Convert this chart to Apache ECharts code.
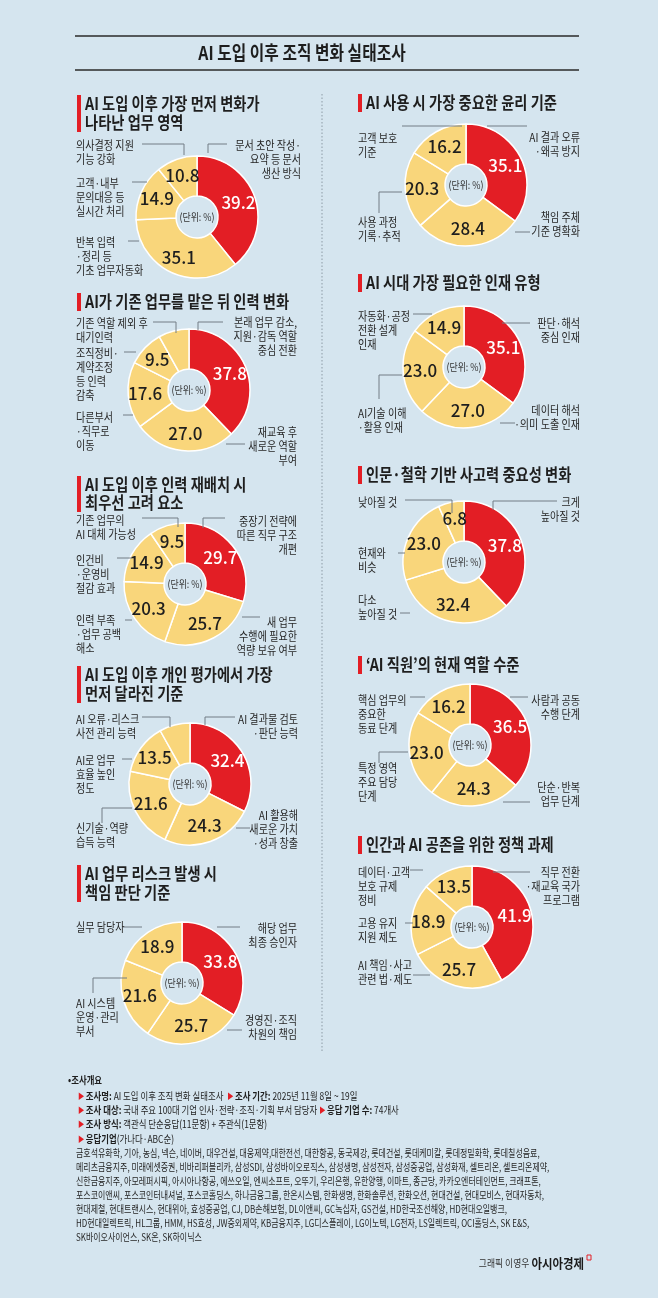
<!DOCTYPE html>
<html><head><meta charset="utf-8">
<script src="https://cdn.jsdelivr.net/npm/echarts@6/dist/echarts.min.js"></script>
<style>html,body{margin:0;padding:0;background:#d5e5ef;}#c{width:658px;height:1298px;}</style>
</head><body><div id="c"></div>
<script>
// ---------------- DATA ----------------
const mainTitle = 'AI 도입 이후 조직 변화 실태조사';
const unitText = '(단위: %)';

const titleL1 = ['AI 도입 이후 가장 먼저 변화가', '나타난 업무 영역'];
const catsL1 = ['문서 초안 작성·\n요약 등 문서\n생산 방식', '반복 입력\n·정리 등\n기초 업무자동화', '고객·내부\n문의대응 등\n실시간 처리', '의사결정 지원\n기능 강화'];
const valsL1 = [39.2, 35.1, 14.9, 10.8];

const titleL2 = ['AI가 기존 업무를 맡은 뒤 인력 변화'];
const catsL2 = ['본래 업무 감소,\n지원·감독 역할\n중심 전환', '재교육 후\n새로운 역할\n부여', '다른부서\n·직무로\n이동', '조직정비·\n계약조정\n등 인력\n감축', '기존 역할 제외 후\n대기인력'];
const valsL2 = [37.8, 27.0, 17.6, 9.5, 8.1];

const titleL3 = ['AI 도입 이후 인력 재배치 시', '최우선 고려 요소'];
const catsL3 = ['중장기 전략에\n따른 직무 구조\n개편', '새 업무\n수행에 필요한\n역량 보유 여부', '인력 부족\n·업무 공백\n해소', '인건비\n·운영비\n절감 효과', '기존 업무의\nAI 대체 가능성'];
const valsL3 = [29.7, 25.7, 20.3, 14.9, 9.5];

const titleL4 = ['AI 도입 이후 개인 평가에서 가장', '먼저 달라진 기준'];
const catsL4 = ['AI 결과물 검토\n·판단 능력', 'AI 활용해\n새로운 가치\n·성과 창출', '신기술·역량\n습득 능력', 'AI로 업무\n효율 높인\n정도', 'AI 오류·리스크\n사전 관리 능력'];
const valsL4 = [32.4, 24.3, 21.6, 13.5, 8.1];

const titleL5 = ['AI 업무 리스크 발생 시', '책임 판단 기준'];
const catsL5 = ['해당 업무\n최종 승인자', '경영진·조직\n차원의 책임', 'AI 시스템\n운영·관리\n부서', '실무 담당자'];
const valsL5 = [33.8, 25.7, 21.6, 18.9];

const titleR1 = ['AI 사용 시 가장 중요한 윤리 기준'];
const catsR1 = ['AI 결과 오류\n·왜곡 방지', '책임 주체\n기준 명확화', '사용 과정\n기록·추적', '고객 보호\n기준'];
const valsR1 = [35.1, 28.4, 20.3, 16.2];

const titleR2 = ['AI 시대 가장 필요한 인재 유형'];
const catsR2 = ['판단·해석\n중심 인재', '데이터 해석\n·의미 도출 인재', 'AI기술 이해\n·활용 인재', '자동화·공정\n전환 설계\n인재'];
const valsR2 = [35.1, 27.0, 23.0, 14.9];

const titleR3 = ['인문·철학 기반 사고력 중요성 변화'];
const catsR3 = ['크게\n높아질 것', '다소\n높아질 것', '현재와\n비슷', '낮아질 것'];
const valsR3 = [37.8, 32.4, 23.0, 6.8];

const titleR4 = ['‘AI 직원’의 현재 역할 수준'];
const catsR4 = ['사람과 공동\n수행 단계', '단순·반복\n업무 단계', '특정 영역\n주요 담당\n단계', '핵심 업무의\n중요한\n동료 단계'];
const valsR4 = [36.5, 24.3, 23.0, 16.2];

const titleR5 = ['인간과 AI 공존을 위한 정책 과제'];
const catsR5 = ['직무 전환\n·재교육 국가\n프로그램', 'AI 책임·사고\n관련 법·제도', '고용 유지\n지원 제도', '데이터·고객\n보호 규제\n정비'];
const valsR5 = [41.9, 25.7, 18.9, 13.5];

const surveyHead = '•조사개요';
const surveyName = 'AI 도입 이후 조직 변화 실태조사';
const surveyPeriod = '2025년 11월 8일 ~ 19일';
const surveyTarget = '국내 주요 100대 기업 인사·전략·조직·기획 부서 담당자';
const surveyCount = '74개사';
const surveyMethod = '객관식 단순응답(11문항) + 주관식(1문항)';
const companyLines = [
  '금호석유화학, 기아, 농심, 넥슨, 네이버, 대우건설, 대웅제약,대한전선, 대한항공, 동국제강, 롯데건설, 롯데케미칼, 롯데정밀화학, 롯데칠성음료,',
  '메리츠금융지주, 미래에셋증권, 비바리퍼블리카, 삼성SDI, 삼성바이오로직스, 삼성생명, 삼성전자, 삼성중공업, 삼성화재, 셀트리온, 셀트리온제약,',
  '신한금융지주, 아모레퍼시픽, 아시아나항공, 에쓰오일, 엔씨소프트, 오뚜기, 우리은행, 유한양행, 이마트, 종근당, 카카오엔터테인먼트, 크래프톤,',
  '포스코이앤씨, 포스코인터내셔널, 포스코홀딩스, 하나금융그룹, 한온시스템, 한화생명, 한화솔루션, 한화오션, 현대건설, 현대모비스, 현대자동차,',
  '현대제철, 현대트랜시스, 현대위아, 효성중공업, CJ, DB손해보험, DL이앤씨, GC녹십자, GS건설, HD한국조선해양, HD현대오일뱅크,',
  'HD현대일렉트릭, HL그룹, HMM, HS효성, JW중외제약, KB금융지주, LG디스플레이, LG이노텍, LG전자, LS일렉트릭, OCI홀딩스, SK E&S,',
  'SK바이오사이언스, SK온, SK하이닉스'
];
const creditName = '그래픽 이영우 ';
const creditBrand = '아시아경제';

// ---------------- LAYOUT ----------------
const RED = '#e31e25', YEL = '#f9d67b', INK = '#1e1e1e', LINE = '#737d85';
const CF = '"Noto Sans CJK KR", "Noto Sans", sans-serif';

const charts = [
  {title: titleL1, cats: catsL1, vals: valsL1, bx: 77, ty: [104, 123], c: [197, 217],
   lab: [[301,145,'right'],[76,242,'left'],[76,183,'left'],[76,145,'left']],
   lead: [[[208,153],[208,144],[227,144]], [[128,241],[139,241]], [[132,182],[147,182]], [[142,144],[184,144],[184,155]]]},
  {title: titleL2, cats: catsL2, vals: valsL2, bx: 77, ty: [302], c: [189, 390],
   lab: [[297,322,'right'],[297,432,'right'],[76,417,'left'],[76,353,'left'],[76,323,'left']],
   lead: [[[198,330],[198,322],[223,322]], [[226,444],[245,444]], [[123,415],[133,415]], [[124,352],[136,352]], [[153,322],[176,322],[176,333]]]},
  {title: titleL3, cats: catsL3, vals: valsL3, bx: 77, ty: [485, 503], c: [185, 584],
   lab: [[297,521,'right'],[297,622,'right'],[76,620,'left'],[76,560,'left'],[76,520,'left']],
   lead: [[[203,528],[203,518],[225,518]], [[242,617],[260,617]], [[125,620],[132,620]], [[117,558],[132,558]], [[142,518],[178,518],[178,527]]]},
  {title: titleL4, cats: catsL4, vals: valsL4, bx: 77, ty: [675, 694], c: [190, 784],
   lab: [[298,719,'right'],[298,815,'right'],[76,828,'left'],[76,760,'left'],[76,719,'left']],
   lead: [[[205,725],[205,717],[235,717]], [[236,828],[250,828]], [[102,823],[102,808],[132,808]], [[122,759],[132,759]], [[142,717],[170,717],[170,727]]]},
  {title: titleL5, cats: catsL5, vals: valsL5, bx: 77, ty: [874, 893], c: [182, 983],
   lab: [[297,928,'right'],[297,1020,'right'],[76,1003,'left'],[76,927,'left']],
   lead: [[[217,927],[240,927]], [[227,1030],[242,1030]], [[93,993],[93,978],[127,978]], [[123,927],[142,927]]]},
  {title: titleR1, cats: catsR1, vals: valsR1, bx: 358, ty: [103], c: [466, 185],
   lab: [[580,137,'right'],[580,217,'right'],[358,222,'left'],[358,138,'left']],
   lead: [[[487,126],[527,126]], [[515,232],[530,232]], [[379,213],[379,192],[402,192]], [[402,126],[462,126]]]},
  {title: titleR2, cats: catsR2, vals: valsR2, bx: 358, ty: [283], c: [464, 367],
   lab: [[580,323,'right'],[580,410,'right'],[358,413,'left'],[358,316,'left']],
   lead: [[[502,323],[530,323]], [[500,423],[515,423]], [[379,399],[379,375],[402,375]], [[413,314],[432,314]]]},
  {title: titleR3, cats: catsR3, vals: valsR3, bx: 358, ty: [475], c: [464, 562],
   lab: [[580,502,'right'],[358,600,'left'],[358,553,'left'],[358,502,'left']],
   lead: [[[493,510],[493,501],[557,501]], [[400,613],[410,613]], [[398,553],[405,553]], [[405,500],[452,500],[452,513]]]},
  {title: titleR4, cats: catsR4, vals: valsR4, bx: 358, ty: [665], c: [470, 745],
   lab: [[580,700,'right'],[580,787,'right'],[358,768,'left'],[358,700,'left']],
   lead: [[[510,697],[528,697]], [[503,802],[530,802]], [[379,763],[379,752],[408,752]], [[410,697],[425,697]]]},
  {title: titleR5, cats: catsR5, vals: valsR5, bx: 358, ty: [845], c: [472, 927],
   lab: [[580,872,'right'],[358,965,'left'],[358,923,'left'],[358,872,'left']],
   lead: [[[493,872],[530,872]], [[413,975],[430,975]], [[405,923],[413,923]], [[410,870],[423,870]]]}
];

function T(x, y, text, size, o) {
  o = o || {};
  return {type: 'text', x: x, y: y, scaleX: o.sx == null ? 0.84 : o.sx, silent: true, z: 20,
    style: {text: text, fontSize: size, fontWeight: o.w || 'normal', fontFamily: CF,
      fill: o.fill || INK, textAlign: o.align || 'left', textVerticalAlign: 'middle', rich: o.rich}};
}
function L(points, o) {
  o = o || {};
  return {type: 'polyline', silent: true, z: 15, shape: {points: points},
    style: {stroke: o.stroke || LINE, lineWidth: o.lw || 1, fill: 'none', lineDash: o.dash || null}};
}

const g = [];
g.push(L([[75,36],[579,36]], {stroke:'#2a2a2a', lw:1.3}));
g.push(L([[75,70],[579,70]], {stroke:'#2a2a2a', lw:1.3}));
g.push(T(302, 53, mainTitle, 19, {w:'bold', align:'center', sx:0.83}));
g.push(L([[322,94],[322,1053]], {stroke:'#8d9ba5', lw:1, dash:[1.5,2]}));

charts.forEach(function (ch) {
  const y0 = ch.ty[0], y1 = ch.ty[ch.ty.length - 1];
  g.push({type:'rect', silent:true, z:15, shape:{x: ch.bx, y: y0 - 9, width: 4, height: y1 - y0 + 18}, style:{fill: RED}});
  ch.title.forEach(function (t, i) { g.push(T(ch.bx + 8, ch.ty[i], t, 17, {w:'bold', sx:0.84})); });
  ch.cats.forEach(function (cat, i) {
    const p = ch.lab[i];
    cat.split('\n').forEach(function (line, k) {
      g.push(T(p[0], p[1] + k * 14, line, 12, {align: p[2], sx: 0.84, fill:'#262626'}));
    });
    g.push(L(ch.lead[i]));
  });
  g.push(T(ch.c[0], ch.c[1], unitText, 10.5, {align:'center', sx:0.85, fill:'#333'}));
});

const rich = {
  b: {fontWeight:'bold', fontSize:10.5, fontFamily:CF, fill:'#1e1e1e'},
  n: {fontSize:10.5, fontFamily:CF, fill:'#1e1e1e'},
  t: {fontSize:8, fontFamily:CF, fill:RED}
};
g.push(T(68, 1080, surveyHead, 10.5, {w:'bold', sx:0.8}));
g.push(T(78, 1096, '{t|▶ }{b|조사명: }{n|' + surveyName + '  }{t|▶ }{b|조사 기간: }{n|' + surveyPeriod + '}', 10.5, {sx:0.8, rich: rich}));
g.push(T(78, 1110, '{t|▶ }{b|조사 대상: }{n|' + surveyTarget + ' }{t|▶ }{b|응답 기업 수: }{n|' + surveyCount + '}', 10.5, {sx:0.8, rich: rich}));
g.push(T(78, 1124, '{t|▶ }{b|조사 방식: }{n|' + surveyMethod + '}', 10.5, {sx:0.8, rich: rich}));
g.push(T(78, 1139, '{t|▶ }{b|응답기업}{n|(가나다·ABC순)}', 10.5, {sx:0.8, rich: rich}));
companyLines.forEach(function (line, i) {
  g.push(T(76, 1153 + i * 14, line, 10.5, {sx:0.76, fill:'#262626'}));
});
g.push(T(584, 1263, '{n|' + creditName + '}{c|' + creditBrand + '}', 10, {align:'right', sx:0.88,
  rich: {n:{fontSize:10, fontFamily:CF, fill:'#333'}, c:{fontSize:13, fontWeight:'bold', fontFamily:CF, fill:'#1a1a1a'}}}));
g.push({type:'rect', silent:true, z:15, shape:{x:587, y:1255, width:4, height:5}, style:{fill:'none', stroke:RED, lineWidth:1}});

const series = charts.map(function (ch) {
  return {
    type: 'pie', center: ch.c, radius: [21, 61], startAngle: 90, clockwise: true,
    silent: true, animation: false, avoidLabelOverlap: false,
    label: {show: true, position: 'inside', fontSize: 17, fontWeight: 500, fontFamily: CF, color: INK,
      formatter: function (p) { return Number(p.value).toFixed(1); }},
    labelLine: {show: false},
    emphasis: {disabled: true},
    itemStyle: {borderColor: '#ffffff', borderWidth: 1.5},
    data: ch.vals.map(function (v, i) {
      return {name: ch.cats[i].replace(/\n/g, ' '), value: v,
        itemStyle: {color: i === 0 ? RED : YEL},
        label: {color: i === 0 ? '#ffffff' : INK}};
    })
  };
});

const chart = echarts.init(document.getElementById('c'), null, {renderer: 'canvas', width: 658, height: 1298});
chart.setOption({
  backgroundColor: '#d5e5ef',
  animation: false,
  series: series,
  graphic: {elements: g}
});
</script>
</body></html>
